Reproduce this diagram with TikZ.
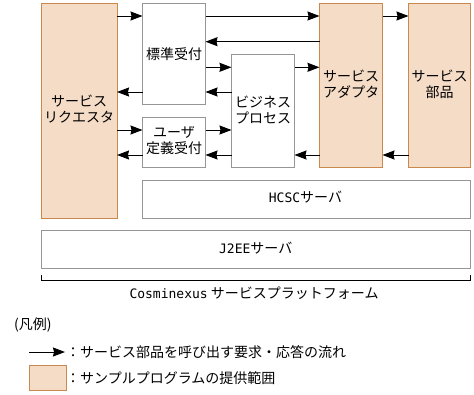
\documentclass[tikz,border=0pt]{standalone}
\usepackage{fontspec}
\setmainfont{Noto Sans CJK JP}
\newfontfamily\monofont{DejaVu Sans Mono}
\usetikzlibrary{arrows.meta}
\definecolor{peach}{HTML}{F5DCC6}
\definecolor{peachline}{HTML}{C8884E}
\definecolor{boxgray}{HTML}{969696}
\tikzset{
  base/.style={anchor=north west, inner sep=0pt, outer sep=0pt, line width=1pt,
    font=\fontsize{14}{17}\selectfont, align=center},
  sample/.style={base, draw=peachline, fill=peach},
  plain/.style={base, draw=boxgray, fill=white},
  arr/.style={line width=1pt, -{Stealth[inset=1pt,length=12pt,width=9pt]}},
  lbl/.style={inner sep=0pt, font=\fontsize{14}{17}\selectfont}
}
\newcommand{\lt}[1]{{\monofont\fontsize{13}{15}\selectfont #1}}
\begin{document}
\begin{tikzpicture}[x=1pt,y=-1pt]
\useasboundingbox (0,0) rectangle (474,394);
% boxes
\node[sample, minimum width=76pt, minimum height=214.5pt] (req) at (41,3.5) {};
\node[lbl] at (req.center) {\begin{tabular}{@{}c@{}}サービス\\[-1pt]リクエスタ\end{tabular}};
\node[plain, minimum width=63pt, minimum height=100.5pt] (std) at (142.5,3.5) {};
\node[lbl] at (std.center) {標準受付};
\node[plain, minimum width=63pt, minimum height=49.5pt] (usr) at (142.5,117.5) {};
\node[lbl] at (usr.center) {\begin{tabular}{@{}c@{}}ユーザ\\[-1pt]定義受付\end{tabular}};
\node[plain, minimum width=63pt, minimum height=112.5pt] (bp) at (231.5,54.5) {};
\node[lbl] at ([yshift=-1pt]bp.center) {\begin{tabular}{@{}c@{}}ビジネス\\[-1pt]プロセス\end{tabular}};
\node[sample, minimum width=63pt, minimum height=163.5pt] (ad) at (319.5,3.5) {};
\node[lbl] at ([yshift=-1pt]ad.center) {\begin{tabular}{@{}c@{}}サービス\\[-1pt]アダプタ\end{tabular}};
\node[sample, minimum width=62pt, minimum height=163.5pt] (pt) at (408.5,3.5) {};
\node[lbl] at ([yshift=-1pt]pt.center) {\begin{tabular}{@{}c@{}}サービス\\[-1pt]部品\end{tabular}};
\node[plain, minimum width=328pt, minimum height=37.5pt] (hcsc) at (142.5,180.5) {};
\node[lbl] at ([xshift=-1pt,yshift=2pt]hcsc.center) {\lt{HCSC}サーバ};
\node[plain, minimum width=429.5pt, minimum height=37.5pt] (j2ee) at (41,230.5) {};
\node[lbl] at ([yshift=1pt]j2ee.center) {\lt{J2EE}サーバ};
% bracket
\coordinate (bl) at (41,275);
\coordinate (br) at (470.5,275);
\draw[line width=1pt] (bl) -- ++(0,5) -| (br);
\node[lbl] (plat) at (254,293) {\lt{Cosminexus} サービスプラットフォーム};
% arrows
\draw[arr] (req.east |- 0,16) -- (std.west |- 0,16);
\draw[arr] (std.west |- 0,92) -- (req.east |- 0,92);
\draw[arr] (req.east |- 0,130) -- (usr.west |- 0,130);
\draw[arr] (usr.west |- 0,155) -- (req.east |- 0,155);
\draw[arr] (std.east |- 0,16) -- (ad.west |- 0,16);
\draw[arr] (ad.west |- 0,41.7) -- (std.east |- 0,41.7);
\draw[arr] (std.east |- 0,67.3) -- (bp.west |- 0,67.3);
\draw[arr] (bp.west |- 0,92) -- (std.east |- 0,92);
\draw[arr] (usr.east |- 0,130) -- (bp.west |- 0,130);
\draw[arr] (bp.west |- 0,155) -- (usr.east |- 0,155);
\draw[arr] (bp.east |- 0,67.3) -- (ad.west |- 0,67.3);
\draw[arr] (ad.west |- 0,155) -- (bp.east |- 0,155);
\draw[arr] (ad.east |- 0,16) -- (pt.west |- 0,16);
\draw[arr] (pt.west |- 0,155) -- (ad.east |- 0,155);
% legend
\node[lbl, anchor=west] (leg) at (14,325) {(凡例)};
\coordinate (la) at (29,352);
\coordinate (lb) at (65,352);
\draw[arr] (la) -- (lb);
\node[lbl, anchor=west] (legA) at (66,352) {：サービス部品を呼び出す要求・応答の流れ};
\node[sample, minimum width=36.5pt, minimum height=24.5pt] (legbox) at (29.5,365.5) {};
\node[lbl, anchor=west] (legB) at (66,378) {：サンプルプログラムの提供範囲};
\end{tikzpicture}
\end{document}
